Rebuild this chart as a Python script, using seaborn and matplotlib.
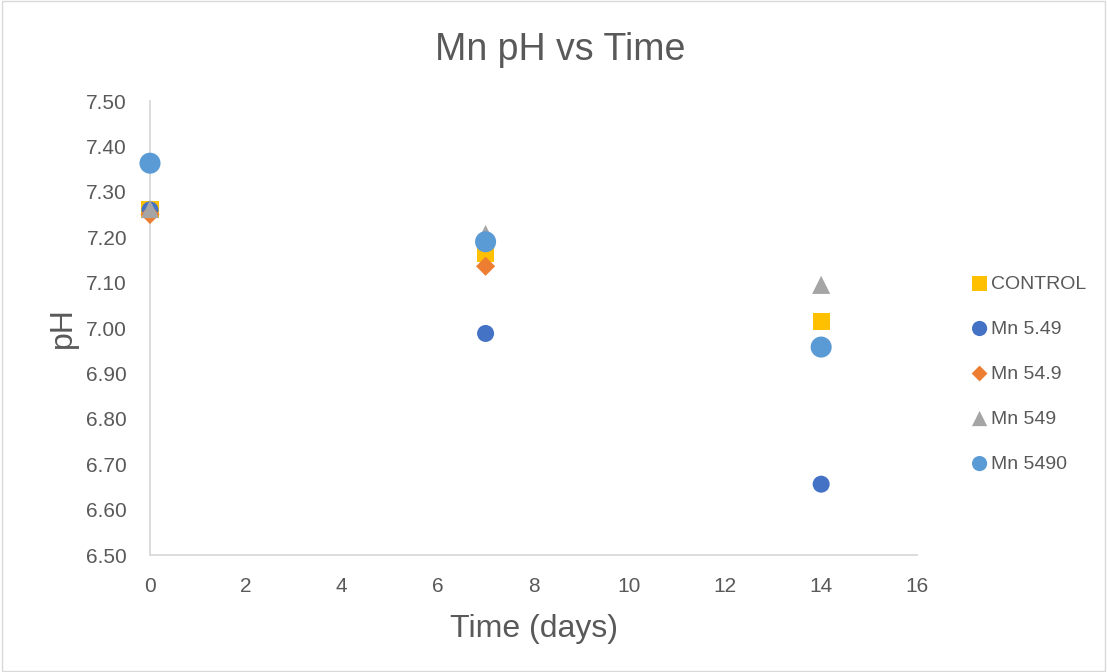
import matplotlib
matplotlib.use("Agg")
import matplotlib.pyplot as plt
from matplotlib.patches import Rectangle
from matplotlib.ticker import FormatStrFormatter
import seaborn as sns
import pandas as pd

sns.set_theme(style="white")
plt.rcParams["font.family"] = ["Liberation Sans", "DejaVu Sans"]

days = [0, 7, 14]
series_names = ["CONTROL", "Mn 5.49", "Mn 54.9", "Mn 549", "Mn 5490"]
control = [7.26, 7.165, 7.015]
mn_5_49 = [7.26, 6.988, 6.656]
mn_54_9 = [7.25, 7.136, None]
mn_549 = [7.262, 7.207, 7.095]
mn_5490 = [7.363, 7.190, 6.958]

colors = ["#FFC000", "#4472C4", "#ED7D31", "#A5A5A5", "#5B9BD5"]
markers = ["s", "o", "D", "^", "o"]
sizes = [150, 150, 95, 170, 230]
legend_sizes = [120, 120, 65, 120, 120]

values = [control, mn_5_49, mn_54_9, mn_549, mn_5490]
rows = []
for name, vals in zip(series_names, values):
    for d, v in zip(days, vals):
        if v is not None:
            rows.append({"Time": d, "pH": v, "Series": name})
df = pd.DataFrame(rows)

fig = plt.figure(figsize=(11.07, 6.72), dpi=100)
ax = fig.add_axes([0.1355, 0.1741, 0.6929, 0.6756])

for name, c, m, s in zip(series_names, colors, markers, sizes):
    sub = df[df["Series"] == name]
    sns.scatterplot(data=sub, x="Time", y="pH", ax=ax, color=c, marker=m,
                    s=s, edgecolor="none", linewidth=0, label=name, zorder=3,
                    clip_on=False)

ax.set_xlim(0, 16)
ax.set_ylim(6.5, 7.5)
ax.set_xticks(range(0, 17, 2))
ax.set_yticks([6.5 + 0.1 * i for i in range(11)])
ax.yaxis.set_major_formatter(FormatStrFormatter("%.2f"))
ax.tick_params(axis="y", length=0, labelsize=15, labelcolor="#595959", pad=16.5)
ax.tick_params(axis="x", length=0, labelsize=15, labelcolor="#595959", pad=16)

for side in ["top", "right"]:
    ax.spines[side].set_visible(False)
for side in ["left", "bottom"]:
    ax.spines[side].set_color("#D9D9D9")
    ax.spines[side].set_linewidth(1.3)
ax.set_facecolor("white")
ax.patch.set_alpha(0)

ax.set_xlabel("Time (days)", fontsize=23, color="#595959", labelpad=13)
ax.set_ylabel("pH", fontsize=23, color="#595959", labelpad=6)
fig.suptitle("Mn pH vs Time", x=0.506, y=0.952, fontsize=27, color="#595959")

leg = ax.legend(loc="upper left", bbox_to_anchor=(1.06, 0.634), frameon=False,
                fontsize=14, labelspacing=1.41, handletextpad=0.15,
                handlelength=0.9, borderaxespad=0)
for t in leg.get_texts():
    t.set_color("#595959")
for h, s in zip(leg.legend_handles, legend_sizes):
    h.set_sizes([s])

fig.patches.append(Rectangle((0.002, 0.002), 0.996, 0.996, transform=fig.transFigure,
                             fill=False, edgecolor="#D9D9D9", linewidth=1))

fig.savefig("out.png", dpi=100, facecolor="white")
